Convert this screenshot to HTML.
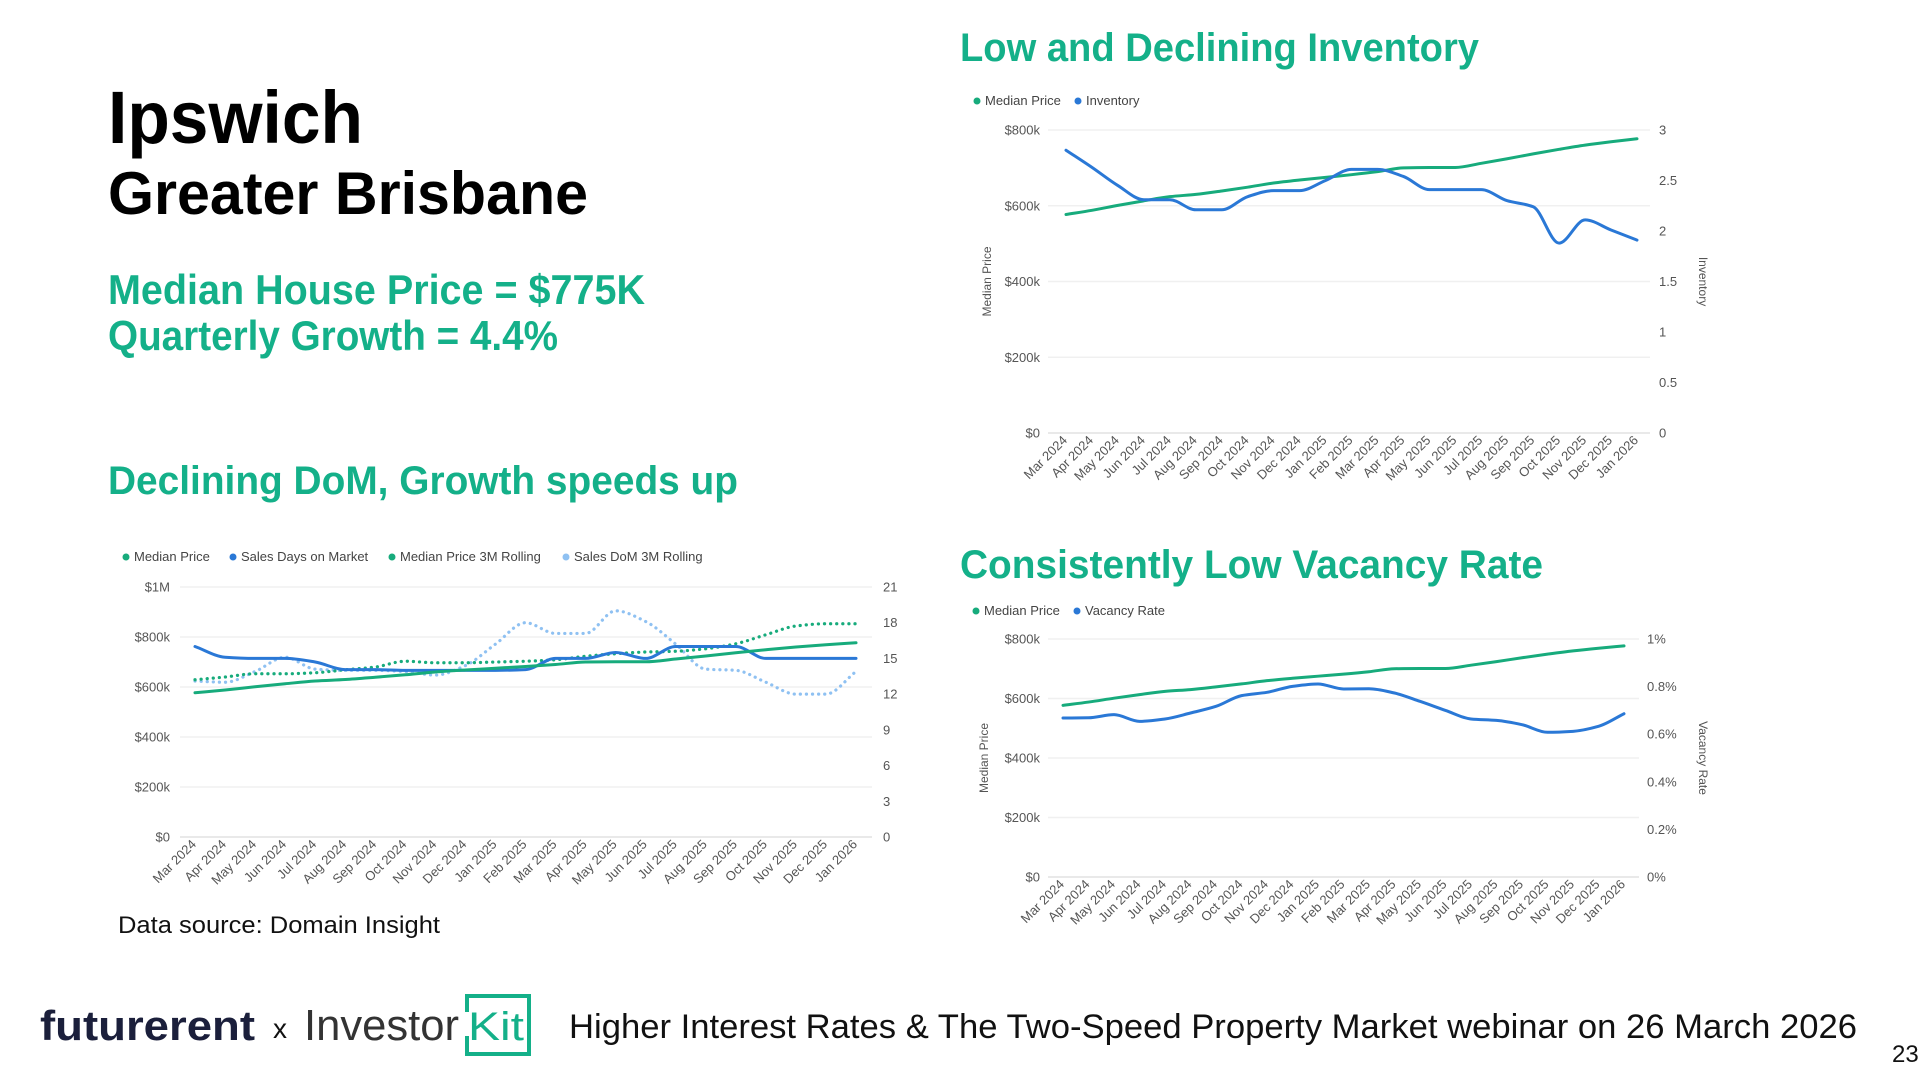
<!DOCTYPE html>
<html><head><meta charset="utf-8"><style>
html,body{margin:0;padding:0;background:#fff;width:1920px;height:1080px;overflow:hidden}
svg{display:block;font-family:"Liberation Sans",sans-serif}
.tk{font-size:13px;fill:#555}
.lg{font-size:13px;fill:#444}
.ttl{font-size:12px;fill:#555}
</style></head><body>
<svg id="s" width="1920" height="1080" viewBox="0 0 1920 1080">
<text x="108" y="143" font-size="74" font-weight="bold" textLength="255" lengthAdjust="spacingAndGlyphs">Ipswich</text>
<text x="108" y="214" font-size="60" font-weight="bold" textLength="480" lengthAdjust="spacingAndGlyphs">Greater Brisbane</text>
<text x="108" y="304" font-size="42" font-weight="bold" fill="#14b089" textLength="537" lengthAdjust="spacingAndGlyphs">Median House Price = $775K</text>
<text x="108" y="350" font-size="42" font-weight="bold" fill="#14b089" textLength="450" lengthAdjust="spacingAndGlyphs">Quarterly Growth = 4.4%</text>
<text x="108" y="494" font-size="40" font-weight="bold" fill="#14b089" textLength="630" lengthAdjust="spacingAndGlyphs">Declining DoM, Growth speeds up</text>
<text x="960" y="61" font-size="40" font-weight="bold" fill="#14b089" textLength="519" lengthAdjust="spacingAndGlyphs">Low and Declining Inventory</text>
<text x="960" y="578" font-size="40" font-weight="bold" fill="#14b089" textLength="583" lengthAdjust="spacingAndGlyphs">Consistently Low Vacancy Rate</text>
<text x="118" y="933" font-size="24" fill="#111" textLength="322" lengthAdjust="spacingAndGlyphs">Data source: Domain Insight</text>
<text x="40" y="1040" font-size="42" font-weight="bold" fill="#1b1f3b" textLength="215" lengthAdjust="spacingAndGlyphs">futurerent</text>
<text x="273" y="1038" font-size="28" fill="#111">x</text>
<text x="304" y="1040" font-size="44" fill="#333" textLength="155" lengthAdjust="spacingAndGlyphs">Investor</text>
<g>
<path d="M467 1012 V996 H529 V1054 H467 V1036" fill="none" stroke="#14b089" stroke-width="4"/>
<text x="468" y="1040" font-size="40" fill="#14b089" textLength="56" lengthAdjust="spacingAndGlyphs">Kit</text>
</g>
<text x="569" y="1038" font-size="34" fill="#111" textLength="1288" lengthAdjust="spacingAndGlyphs">Higher Interest Rates &amp; The Two-Speed Property Market webinar on 26 March 2026</text>
<text x="1892" y="1062" font-size="24" fill="#111">23</text>
<g id="c1"></g>
<g id="c2"></g>
<g id="c3"></g>
</svg>
<script>
const months = ["Mar 2024","Apr 2024","May 2024","Jun 2024","Jul 2024","Aug 2024","Sep 2024","Oct 2024","Nov 2024","Dec 2024","Jan 2025","Feb 2025","Mar 2025","Apr 2025","May 2025","Jun 2025","Jul 2025","Aug 2025","Sep 2025","Oct 2025","Nov 2025","Dec 2025","Jan 2026"];
const medianPrice = [577,588,601,613,624,630,639,649,660,668,675,682,690,700,701,701,712,724,737,749,760,769,777];
const inventory = [2.80,2.63,2.45,2.31,2.31,2.21,2.21,2.34,2.40,2.40,2.50,2.61,2.61,2.54,2.41,2.41,2.41,2.30,2.24,1.88,2.11,2.01,1.91];
const salesDom = [16.0,15.1,15.0,15.0,14.7,14.06,14.06,14.0,14.0,14.0,14.0,14.06,15.0,15.0,15.5,15.0,16.0,16.0,16.0,15.0,15.0,15.0,15.0];
const price3m = [629,640,653,653,657,669,680,703,697,697,700,703,709,723,733,740,743,753,773,809,844,853,853];
const dom3m = [13.1,13.0,13.9,15.1,14.1,14.0,14.0,13.9,13.6,14.4,16.2,18.0,17.1,17.1,19.0,18.1,16.2,14.1,14.0,13.0,12.0,12.0,13.9];
const vacancy = [0.668,0.669,0.682,0.654,0.664,0.689,0.717,0.762,0.776,0.801,0.811,0.790,0.791,0.773,0.738,0.700,0.664,0.658,0.640,0.608,0.612,0.633,0.686];
const priceTicks1 = [0,200,400,600,800];
const invTicks = [0,0.5,1,1.5,2,2.5,3];
const priceTicks2 = [0,200,400,600,800,1000];
const domTicks = [0,3,6,9,12,15,18,21];
const vacTicks = [0,0.2,0.4,0.6,0.8,1];

const NS="http://www.w3.org/2000/svg";
function mk(parent,tag,attrs,txt){const e=document.createElementNS(NS,tag);for(const k in attrs)e.setAttribute(k,attrs[k]);if(txt!==undefined)e.textContent=txt;parent.appendChild(e);return e;}
function monoPath(pts){
  const n=pts.length;const dx=[],m=[],t=[];
  for(let i=0;i<n-1;i++){dx[i]=pts[i+1][0]-pts[i][0];m[i]=(pts[i+1][1]-pts[i][1])/dx[i];}
  t[0]=m[0];t[n-1]=m[n-2];
  for(let i=1;i<n-1;i++){if(m[i-1]*m[i]<=0)t[i]=0;else{t[i]=3*(dx[i-1]+dx[i])/((2*dx[i]+dx[i-1])/m[i-1]+(dx[i]+2*dx[i-1])/m[i]);}}
  let d="M"+pts[0][0]+","+pts[0][1];
  for(let i=0;i<n-1;i++){const h=dx[i]/3;d+=" C"+(pts[i][0]+h)+","+(pts[i][1]+t[i]*h)+" "+(pts[i+1][0]-h)+","+(pts[i+1][1]-t[i+1]*h)+" "+pts[i+1][0]+","+pts[i+1][1];}
  return d;
}
function chart(g,cfg){
  const xs=i=>cfg.x0+(cfg.x1-cfg.x0)*i/(months.length-1);
  const yl=v=>cfg.yb-(cfg.yb-cfg.yt)*(v-cfg.lmin)/(cfg.lmax-cfg.lmin);
  const yr=v=>cfg.yb-(cfg.yb-cfg.yt)*(v-cfg.rmin)/(cfg.rmax-cfg.rmin);
  cfg.lt.forEach(v=>{
    const gl=mk(g,"line",{x1:cfg.gx0,x2:cfg.gx1,y1:yl(v),y2:yl(v),stroke:v===cfg.lmin?"#e2e2e2":"#f0f0f0","stroke-width":1.5});
    
    
    const t=mk(g,"text",{x:cfg.lx,y:yl(v)+4.5,"text-anchor":"end",class:"tk"},cfg.lf(v));
    
    
  });
  cfg.rt.forEach(v=>{
    const t=mk(g,"text",{x:cfg.rx,y:yr(v)+4.5,class:"tk"},cfg.rf(v));
    
    
  });
  months.forEach((m,i)=>{
    const t=mk(g,"text",{transform:`translate(${xs(i)+2},${cfg.yb+8}) rotate(-45)`,"text-anchor":"end",class:"tk","font-size":"12.5"},m);
    
    
  });
  if(cfg.ltitle){const t=mk(g,"text",{transform:`translate(${cfg.ltx},${(cfg.yt+cfg.yb)/2}) rotate(-90)`,"text-anchor":"middle",class:"ttl"},cfg.ltitle);
    
    }
  if(cfg.rtitle){const t=mk(g,"text",{transform:`translate(${cfg.rtx},${(cfg.yt+cfg.yb)/2}) rotate(90)`,"text-anchor":"middle",class:"ttl"},cfg.rtitle);
    
    }
  cfg.series.forEach(s=>{
    const sc=s.axis==="r"?yr:yl;
    const p=mk(g,"path",{d:monoPath(s.data.map((v,i)=>[xs(i),sc(v)])),fill:"none",stroke:s.color,"stroke-width":s.dash?3.2:3,"stroke-linecap":"round","stroke-linejoin":"round"});
    if(s.dash)p.setAttribute("stroke-dasharray",s.dash);
    
    
  });
  cfg.legend.forEach(l=>{
    const c=mk(g,"circle",{cx:l.x,cy:cfg.ly-4,r:3.5,fill:l.color});
    
    
    const t=mk(g,"text",{x:l.x+8,y:cfg.ly,class:"lg"},l.label);
    
    
  });
}
const G="#17ab7c",B="#2a78d6",LB="#8fc1f2";
const money=v=>v===0?"$0":(v>=1000?"$1M":"$"+v+"k");
chart(document.getElementById("c1"),{x0:1066,x1:1637,gx0:1048,gx1:1650,yt:130,yb:433,lmin:0,lmax:800,rmin:0,rmax:3,
  lt:priceTicks1,rt:invTicks,lf:money,rf:v=>String(v),lx:1040,rx:1659,ltitle:"Median Price",ltx:991,rtitle:"Inventory",rtx:1699,ly:105,
  series:[{data:medianPrice,color:G,name:"median-price-line"},{data:inventory,axis:"r",color:B,name:"inventory-line"}],
  legend:[{x:977,color:G,label:"Median Price"},{x:1078,color:B,label:"Inventory"}]});
chart(document.getElementById("c2"),{x0:195,x1:856,gx0:180,gx1:872,yt:587,yb:837,lmin:0,lmax:1000,rmin:0,rmax:21,
  lt:priceTicks2,rt:domTicks,lf:money,rf:v=>String(v),lx:170,rx:883,ly:561,
  series:[{data:dom3m,axis:"r",color:LB,dash:"0.1 6",name:"sales-dom-3m-line"},{data:price3m,color:G,dash:"0.1 6",name:"median-price-3m-line"},{data:salesDom,axis:"r",color:B,name:"sales-dom-line"},{data:medianPrice,color:G,name:"median-price-line"}],
  legend:[{x:126,color:G,label:"Median Price"},{x:233,color:B,label:"Sales Days on Market"},{x:392,color:G,label:"Median Price 3M Rolling"},{x:566,color:LB,label:"Sales DoM 3M Rolling"}]});
chart(document.getElementById("c3"),{x0:1063,x1:1624,gx0:1048,gx1:1639,yt:639,yb:877,lmin:0,lmax:800,rmin:0,rmax:1,
  lt:priceTicks1,rt:vacTicks,lf:money,rf:v=>Math.round(v*10)/10+"%",lx:1040,rx:1647,ltitle:"Median Price",ltx:988,rtitle:"Vacancy Rate",rtx:1699,ly:615,
  series:[{data:medianPrice,color:G,name:"median-price-line"},{data:vacancy,axis:"r",color:B,name:"vacancy-rate-line"}],
  legend:[{x:976,color:G,label:"Median Price"},{x:1077,color:B,label:"Vacancy Rate"}]});
</script>
</body></html>
